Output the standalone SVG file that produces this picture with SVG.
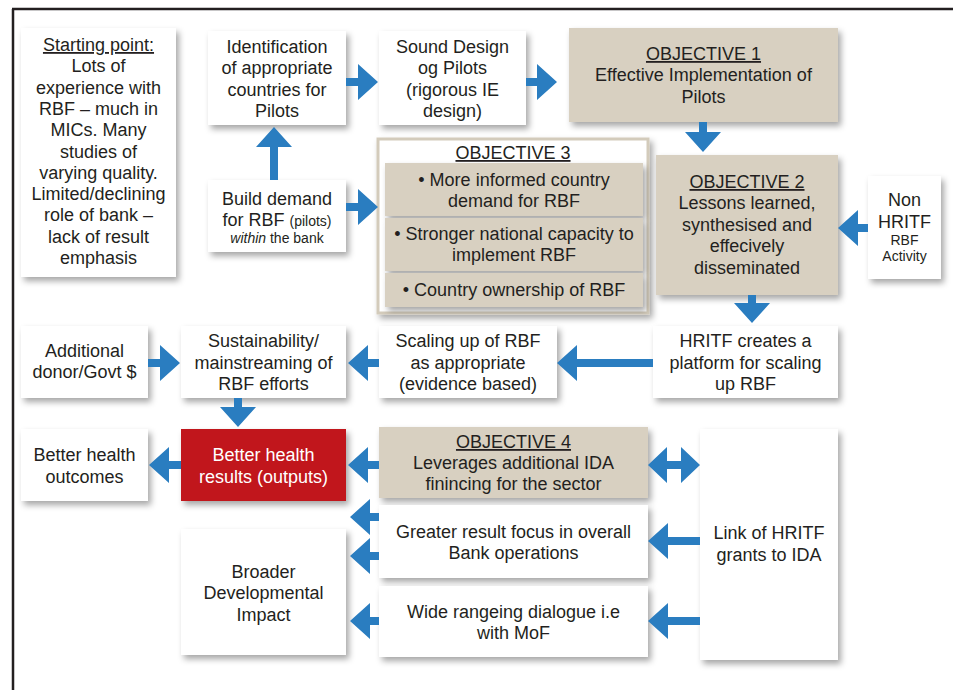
<svg xmlns="http://www.w3.org/2000/svg" width="953" height="690" viewBox="0 0 953 690">
<defs>
<filter id="sh" x="-15%" y="-15%" width="135%" height="135%">
<feDropShadow dx="3" dy="4" stdDeviation="3" flood-color="#000" flood-opacity="0.35"/>
</filter>
<style>
.box{fill:#fff;filter:url(#sh)}
.tan{fill:#d8d0c1;filter:url(#sh)}
.red{fill:#c1121c;filter:url(#sh)}
.cont{fill:#fff;stroke:#d3cbbb;stroke-width:3;filter:url(#sh)}
.inner{fill:#d8d0c1;filter:url(#sh)}
text{font-family:"Liberation Sans",Arial,sans-serif;font-size:18px;fill:#231f20;text-anchor:middle}
.sm{font-size:14px}
.u{text-decoration:underline}
.w{fill:#fff}
.arr{fill:#2a7dc0}
.frame{fill:none;stroke:#231f20;stroke-width:2.5}
</style>
</defs>
<rect width="953" height="690" fill="#fff"/>
<path class="frame" d="M12,9 H953 M13,9 V690"/>

<g id="start">
<rect class="box" x="21" y="28" width="155" height="249"/>
<text x="98.5" y="51" class="u">Starting point:</text>
<text x="98.5" y="72">Lots of</text>
<text x="98.5" y="94">experience with</text>
<text x="98.5" y="115">RBF – much in</text>
<text x="98.5" y="136">MICs. Many</text>
<text x="98.5" y="158">studies of</text>
<text x="98.5" y="179">varying quality.</text>
<text x="98.5" y="200">Limited/declining</text>
<text x="98.5" y="221">role of bank –</text>
<text x="98.5" y="243">lack of result</text>
<text x="98.5" y="264">emphasis</text>
</g>

<g id="ident">
<rect class="box" x="208" y="31" width="138" height="94"/>
<text x="277" y="53">Identification</text>
<text x="277" y="74">of appropriate</text>
<text x="277" y="96">countries for</text>
<text x="277" y="117">Pilots</text>
</g>

<g id="build">
<rect class="box" x="208" y="180" width="138" height="72"/>
<text x="277" y="205">Build demand</text>
<text x="277" y="226">for RBF <tspan class="sm">(pilots)</tspan></text>
<text x="277" y="243" class="sm"><tspan font-style="italic">within</tspan> the bank</text>
</g>

<g id="sound">
<rect class="box" x="379" y="31" width="147" height="94"/>
<text x="452.5" y="53">Sound Design</text>
<text x="452.5" y="74">og Pilots</text>
<text x="452.5" y="96">(rigorous IE</text>
<text x="452.5" y="117">design)</text>
</g>

<g id="obj1">
<rect class="tan" x="569" y="28" width="269" height="94"/>
<text x="703.5" y="60" class="u">OBJECTIVE 1</text>
<text x="703.5" y="81">Effective Implementation of</text>
<text x="703.5" y="103">Pilots</text>
</g>

<g id="obj3">
<rect class="cont" x="378" y="139" width="270" height="174"/>
<text x="513" y="159" class="u">OBJECTIVE 3</text>
<rect class="inner" x="385" y="163" width="258" height="53"/>
<text x="514" y="186">• More informed country</text>
<text x="514" y="207">demand for RBF</text>
<rect class="inner" x="385" y="218" width="258" height="53"/>
<text x="514" y="240">• Stronger national capacity to</text>
<text x="514" y="261">implement RBF</text>
<rect class="inner" x="385" y="273" width="258" height="34"/>
<text x="514" y="296">• Country ownership of RBF</text>
</g>

<g id="obj2">
<rect class="tan" x="656" y="155" width="182" height="140"/>
<text x="747" y="188" class="u">OBJECTIVE 2</text>
<text x="747" y="209">Lessons learned,</text>
<text x="747" y="231">synthesised and</text>
<text x="747" y="252">effecively</text>
<text x="747" y="274">disseminated</text>
</g>

<g id="nonhritf">
<rect class="box" x="868" y="176" width="73" height="103"/>
<text x="904.5" y="206">Non</text>
<text x="904.5" y="228">HRITF</text>
<text x="904.5" y="245" class="sm">RBF</text>
<text x="904.5" y="261" class="sm">Activity</text>
</g>

<g id="hritf">
<rect class="box" x="653" y="326" width="185" height="72"/>
<text x="745.5" y="347">HRITF creates a</text>
<text x="745.5" y="369">platform for scaling</text>
<text x="745.5" y="390">up RBF</text>
</g>

<g id="scaling">
<rect class="box" x="379" y="326" width="178" height="72"/>
<text x="468" y="347">Scaling up of RBF</text>
<text x="468" y="369">as appropriate</text>
<text x="468" y="390">(evidence based)</text>
</g>

<g id="sust">
<rect class="box" x="181" y="326" width="165" height="72"/>
<text x="263.5" y="347">Sustainability/</text>
<text x="263.5" y="369">mainstreaming of</text>
<text x="263.5" y="390">RBF efforts</text>
</g>

<g id="additional">
<rect class="box" x="21" y="326" width="127" height="72"/>
<text x="84.5" y="357">Additional</text>
<text x="84.5" y="378">donor/Govt $</text>
</g>

<g id="bhr">
<rect class="red" x="181" y="429" width="165" height="72"/>
<text x="263.5" y="461" class="w">Better health</text>
<text x="263.5" y="483" class="w">results (outputs)</text>
</g>

<g id="bho">
<rect class="box" x="21" y="429" width="127" height="72"/>
<text x="84.5" y="461">Better health</text>
<text x="84.5" y="483">outcomes</text>
</g>

<g id="obj4">
<rect class="tan" x="379" y="427" width="269" height="71"/>
<text x="513.5" y="448" class="u">OBJECTIVE 4</text>
<text x="513.5" y="469">Leverages additional IDA</text>
<text x="513.5" y="490">finincing for the sector</text>
</g>

<g id="link">
<rect class="box" x="700" y="429" width="138" height="231"/>
<text x="769" y="539">Link of HRITF</text>
<text x="769" y="561">grants to IDA</text>
</g>

<g id="greater">
<rect class="box" x="379" y="505" width="269" height="73"/>
<text x="513.5" y="538">Greater result focus in overall</text>
<text x="513.5" y="559">Bank operations</text>
</g>

<g id="wide">
<rect class="box" x="379" y="586" width="269" height="71"/>
<text x="513.5" y="618">Wide rangeing dialogue i.e</text>
<text x="513.5" y="639">with MoF</text>
</g>

<g id="broader">
<rect class="box" x="181" y="529" width="165" height="126"/>
<text x="263.5" y="578">Broader</text>
<text x="263.5" y="599">Developmental</text>
<text x="263.5" y="621">Impact</text>
</g>

<g id="connectors" class="arr">
<polygon points="270,180 270,147 256,147 274,127 292,147 278,147 278,180"/>
<polygon points="346,78 358,78 358,64 378,82 358,100 358,86 346,86"/>
<polygon points="526,78 537,78 537,64 557,82 537,100 537,86 526,86"/>
<polygon points="346,203 358,203 358,189 378,207 358,225 358,211 346,211"/>
<polygon points="699,122 699,132 685,132 703,152 721,132 707,132 707,122"/>
<polygon points="868,224 858,224 858,210 838,228 858,246 858,232 868,232"/>
<polygon points="748,295 748,303 734,303 752,323 770,303 756,303 756,295"/>
<polygon points="653,359 577,359 577,345 557,363 577,381 577,367 653,367"/>
<polygon points="379,359 368,359 368,345 348,363 368,381 368,367 379,367"/>
<polygon points="148,359 160,359 160,345 180,363 160,381 160,367 148,367"/>
<polygon points="234,398 234,407 220,407 238,427 256,407 242,407 242,398"/>
<polygon points="181,461 169,461 169,447 149,465 169,483 169,469 181,469"/>
<polygon points="379,461 368,461 368,447 348,465 368,483 368,469 379,469"/>
<polygon points="648,465 667,447 667,461 681,461 681,447 700,465 681,483 681,469 667,469 667,483"/>
<polygon points="700,537 668,537 668,523 648,541 668,559 668,545 700,545"/>
<polygon points="700,617 668,617 668,603 648,621 668,639 668,625 700,625"/>
<polygon points="379,513 370,513 370,499 350,517 370,535 370,521 379,521"/>
<polygon points="379,552 370,552 370,538 350,556 370,574 370,560 379,560"/>
<polygon points="379,617 370,617 370,603 350,621 370,639 370,625 379,625"/>
</g>
</svg>
